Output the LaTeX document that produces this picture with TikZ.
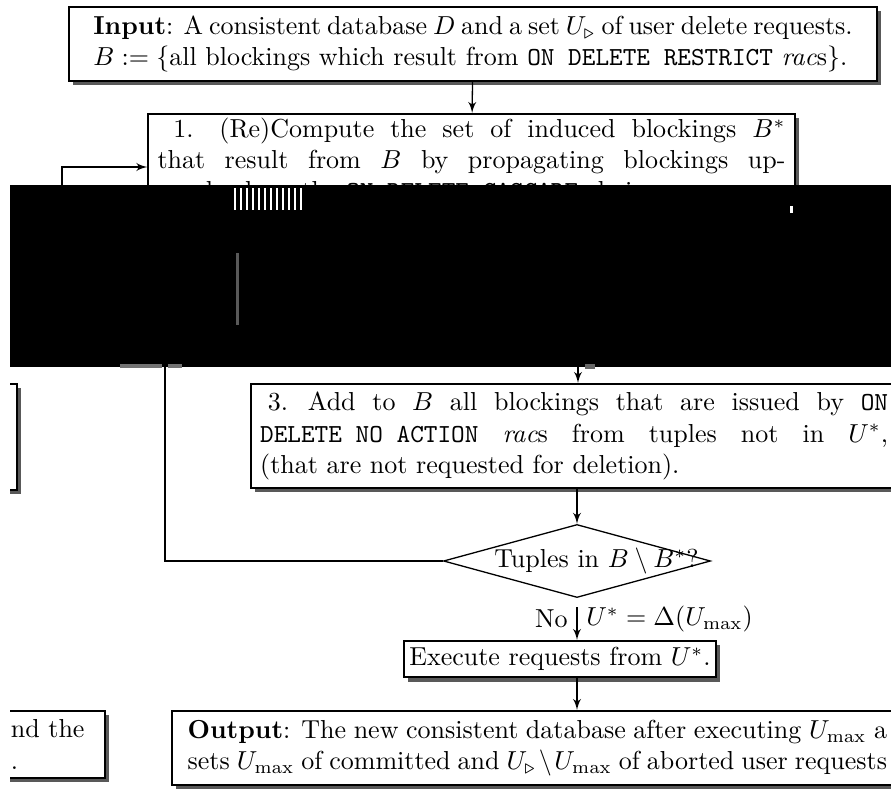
\documentclass[tikz,border=0pt]{standalone}
\usepackage{amsmath,amssymb}
\usetikzlibrary{arrows,calc,shapes.geometric,shadows,positioning}
\newcommand{\stepnum}[3]{\hangindent=#1\hangafter=1\noindent\makebox[#1][l]{\hspace{#2}#3}}

\begin{document}
\begin{tikzpicture}[x=0.3846pt, y=-0.3846pt,
block/.style = {draw, line width=0.8pt, fill=white, rectangle, inner xsep=3.5pt, inner ysep=3.4pt,
  drop shadow={shadow xshift=1.6pt, shadow yshift=-1.6pt, fill=black!65, opacity=1}},
stepbox/.style = {block, text width=241.5pt, align=justify},
decision/.style = {draw, diamond, fill=white, line width=0.5pt, inner sep=0pt, minimum width=102.7pt, minimum height=28.1pt},
link/.style = {line width=0.5pt},
>=latex'
]
\useasboundingbox (0,0) rectangle (891,791);
\begin{scope}
\clip (10,0) rectangle (891,791);

    \node [block, align=justify, text width=292pt, inner xsep=9.5pt, anchor=north] (input) at (473,6)
      {\textbf{Input}: A consistent database $D$ and a set $U_{\triangleright}$ of user delete requests.\linebreak
       $B:=\{$all blockings which result from \texttt{ON DELETE RESTRICT} \textit{rac}s$\}$.};
    \node [stepbox, inner ysep=1.5pt, anchor=north] (step1) at (471.5,113)
      {\stepnum{23.8pt}{6.1pt}{1.}(Re)Compute the set of induced blockings $B^*$\linebreak
       that result from $B$ by propagating blockings up-\linebreak
       wards along the \texttt{ON DELETE CASCADE} chains};
    \node [stepbox, inner ysep=3.2pt, anchor=north west] (step3) at (250,383)
      {\stepnum{18.4pt}{3pt}{3.}Add to $B$ all blockings that are issued by \texttt{ON}\linebreak
       \texttt{DELETE NO ACTION} \textit{rac}s from tuples not in $U^*$,\linebreak
       (that are not requested for deletion).};
    \path let \p1 = ($(step3.north)-(step3.south)$) in
      node [block, anchor=north east, minimum width=60pt, minimum height=\y1] (step2) at (18,383) {};
    \node [decision] (test) at (577,561) {};
    \node (testtext) at (596.5,561) {Tuples in $B\setminus B^*$?};
    \node [block, inner xsep=2pt, inner ysep=2.5pt, anchor=north] (exec) at (560,640) {Execute requests from $U^*$.};
    \node [block, align=justify, inner xsep=6pt, text width=269pt, anchor=north west] (output) at (171,710)
      {\parfillskip=0pt\relax
       \textbf{Output}: The new consistent database after executing $U_{\max}$ a\linebreak
       sets $U_{\max}$ of committed and $U_{\triangleright}\setminus U_{\max}$ of aborted user requests\par};
    \node [block, align=left, text width=32.7pt, anchor=north east] (final) at (106,710) {nd the\\ .};

    \coordinate (backtop) at (62,220);
    \coordinate (backlevel) at (0,167);
    \coordinate (backbot) at (165,300);
    \coordinate (s2out) at (578,300);

    \draw [link,->] (input) -- (step1);
    \draw [link,->] (backtop) |- (step1.west |- backlevel);
    \draw [link] (test.west) -| (backbot);
    \draw [link,->] (s2out) -- (s2out |- step3.north);
    \draw [link,->] (test.north |- step3.south) -- (test.north);
    \draw [link,->, shorten <=3.5pt] (test.south) -- (test.south |- exec.north)
      node [midway, left] {No} node [midway, right] {$U^*=\Delta(U_{\max})$};
    \draw [link,->] (test.south |- exec.south) -- (test.south |- output.north);

    % black band over the middle
    \fill [black] (10,185) rectangle (891,367);
    \foreach \sx in {234,240,...,304}
      \fill [white] (\sx,188) rectangle +(2,22);
    \fill [white] (790,206) rectangle (793,213);
    \fill [black!65] (236,253) rectangle (239,325);
    \fill [black!55] (120,364) rectangle (162,368);
    \fill [black!55] (168,364) rectangle (182,368);
    \fill [black!60] (585,364) rectangle (595,369);
\end{scope}
\end{tikzpicture}
\end{document}
